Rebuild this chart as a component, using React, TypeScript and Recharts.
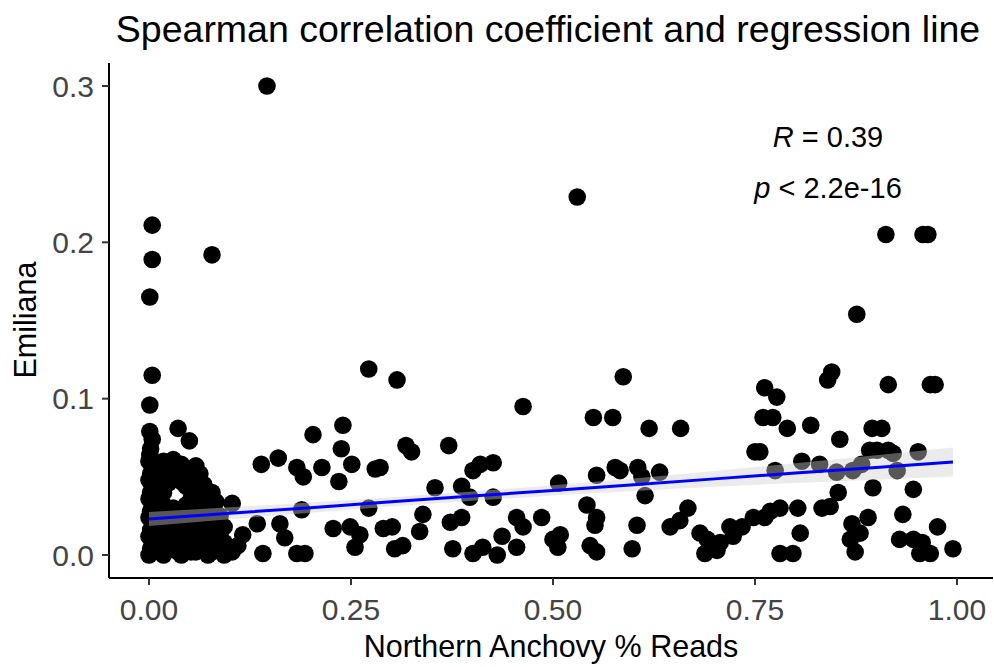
import React from 'react';
import { ComposedChart, Scatter, Area, Line, XAxis, YAxis } from 'recharts';

const W = 994;
const H = 667;
const FONT = '"Liberation Sans", Arial, Helvetica, sans-serif';

const xTicks = [0, 0.25, 0.5, 0.75, 1];
const yTicks = [0, 0.1, 0.2, 0.3];

const chartTitle = 'Spearman correlation coefficient and regression line';
const xTitle = 'Northern Anchovy % Reads';
const yTitle = 'Emiliana';
const corrR = '0.39';
const corrP = '2.2e-16';

// [Northern Anchovy % Reads, Emiliana]
const outlierPoints: [number, number][] = [
  [0.146, 0.300], [0.530, 0.229], [0.004, 0.211], [0.004, 0.189], [0.078, 0.192],
  [0.001, 0.165], [0.004, 0.115], [0.001, 0.096], [0.912, 0.205], [0.958, 0.205],
  [0.964, 0.205], [0.876, 0.154], [0.845, 0.117], [0.840, 0.112], [0.762, 0.107],
  [0.777, 0.101], [0.915, 0.109], [0.967, 0.109], [0.973, 0.109], [0.272, 0.119],
  [0.307, 0.112], [0.587, 0.114],
];

const zeroColumnPoints: [number, number][] = [
  [0.000, 0.000], [0.002, 0.004], [0.004, 0.008], [0.000, 0.012], [0.002, 0.016],
  [0.004, 0.020], [0.000, 0.024], [0.002, 0.028], [0.004, 0.032], [0.000, 0.036],
  [0.002, 0.040], [0.004, 0.044], [0.000, 0.048], [0.002, 0.052], [0.004, 0.056],
  [0.000, 0.060], [0.001, 0.064], [0.002, 0.068], [0.004, 0.074], [0.001, 0.079],
];

const clusterPoints: [number, number][] = [
  [0.006, 0.006], [0.006, 0.014], [0.006, 0.022], [0.006, 0.030], [0.006, 0.038],
  [0.006, 0.046], [0.006, 0.054],
  [0.012, 0.002], [0.012, 0.010], [0.012, 0.018], [0.012, 0.026], [0.012, 0.034],
  [0.012, 0.042], [0.012, 0.050], [0.012, 0.057],
  [0.018, 0.000], [0.018, 0.008], [0.018, 0.016], [0.018, 0.024], [0.018, 0.032],
  [0.018, 0.040], [0.018, 0.052], [0.018, 0.060],
  [0.024, 0.004], [0.024, 0.012], [0.024, 0.020], [0.024, 0.028], [0.024, 0.046], [0.024, 0.056],
  [0.030, 0.006], [0.030, 0.014], [0.030, 0.022], [0.030, 0.030], [0.030, 0.054], [0.030, 0.061],
  [0.036, 0.002], [0.036, 0.010], [0.036, 0.018], [0.036, 0.026], [0.036, 0.050], [0.036, 0.081],
  [0.040, 0.000], [0.040, 0.008], [0.040, 0.016], [0.040, 0.024], [0.040, 0.047], [0.040, 0.058],
  [0.046, 0.006], [0.046, 0.014], [0.046, 0.022], [0.046, 0.032], [0.046, 0.044], [0.046, 0.054],
  [0.050, 0.073],
  [0.052, 0.002], [0.052, 0.010], [0.052, 0.018], [0.052, 0.026], [0.052, 0.036], [0.052, 0.048],
  [0.058, 0.002], [0.058, 0.010], [0.058, 0.020], [0.058, 0.030], [0.058, 0.040], [0.058, 0.050], [0.058, 0.057],
  [0.063, 0.008], [0.063, 0.016], [0.063, 0.026], [0.063, 0.036], [0.063, 0.044], [0.063, 0.052],
  [0.068, 0.005], [0.068, 0.014], [0.068, 0.024], [0.068, 0.034], [0.068, 0.045],
  [0.073, 0.000], [0.073, 0.008], [0.073, 0.018], [0.073, 0.028], [0.073, 0.038],
  [0.078, 0.002], [0.078, 0.010], [0.078, 0.020], [0.078, 0.030], [0.078, 0.040],
  [0.083, 0.006], [0.083, 0.016], [0.083, 0.024], [0.083, 0.034],
  [0.088, 0.004], [0.088, 0.014], [0.088, 0.025],
  [0.093, 0.000], [0.093, 0.008], [0.093, 0.018],
  [0.103, 0.002], [0.103, 0.033], [0.110, 0.006], [0.116, 0.013],
];

const midPoints: [number, number][] = [
  [0.139, 0.058], [0.160, 0.062], [0.183, 0.056], [0.134, 0.020], [0.141, 0.001],
  [0.162, 0.020], [0.168, 0.011], [0.183, 0.001], [0.203, 0.077], [0.240, 0.083],
  [0.238, 0.068], [0.251, 0.058], [0.235, 0.047], [0.214, 0.056], [0.191, 0.050],
  [0.280, 0.055], [0.286, 0.056], [0.318, 0.070], [0.325, 0.066], [0.371, 0.070],
  [0.354, 0.043], [0.387, 0.044], [0.410, 0.058], [0.426, 0.059], [0.401, 0.054],
  [0.397, 0.037], [0.426, 0.037], [0.189, 0.029], [0.272, 0.030], [0.193, 0.001],
  [0.228, 0.017], [0.249, 0.018], [0.261, 0.013], [0.255, 0.005], [0.290, 0.017],
  [0.301, 0.018], [0.304, 0.004], [0.314, 0.006], [0.339, 0.026], [0.335, 0.015],
  [0.373, 0.021], [0.387, 0.024], [0.376, 0.004], [0.401, 0.001], [0.413, 0.005],
  [0.431, 0.000], [0.437, 0.012], [0.455, 0.024], [0.463, 0.018], [0.455, 0.005],
  [0.463, 0.095],
];

const upperMidPoints: [number, number][] = [
  [0.550, 0.088], [0.574, 0.088], [0.619, 0.081], [0.658, 0.081], [0.760, 0.088],
  [0.750, 0.066], [0.554, 0.051], [0.577, 0.056], [0.583, 0.054], [0.605, 0.056],
  [0.610, 0.050], [0.632, 0.053], [0.507, 0.046], [0.614, 0.038], [0.486, 0.024],
  [0.542, 0.032], [0.554, 0.024], [0.552, 0.019], [0.509, 0.013], [0.500, 0.010],
  [0.506, 0.005], [0.546, 0.006], [0.554, 0.002], [0.598, 0.004], [0.604, 0.019],
  [0.645, 0.018], [0.657, 0.022], [0.667, 0.030], [0.682, 0.014], [0.691, 0.010],
  [0.688, 0.001], [0.707, 0.008], [0.723, 0.012], [0.719, 0.018], [0.734, 0.018],
  [0.748, 0.024], [0.762, 0.024], [0.703, 0.003],
];

const rightPoints: [number, number][] = [
  [0.772, 0.088], [0.790, 0.081], [0.819, 0.083], [0.895, 0.081], [0.907, 0.081],
  [0.855, 0.074], [0.756, 0.066], [0.775, 0.054], [0.808, 0.060], [0.830, 0.058],
  [0.851, 0.053], [0.871, 0.054], [0.882, 0.058], [0.892, 0.067], [0.901, 0.067],
  [0.915, 0.067], [0.921, 0.065], [0.926, 0.054], [0.952, 0.066], [0.853, 0.040],
  [0.896, 0.043], [0.946, 0.042], [0.933, 0.026], [0.976, 0.018], [0.995, 0.004],
  [0.769, 0.028], [0.781, 0.030], [0.803, 0.030], [0.833, 0.030], [0.843, 0.031],
  [0.806, 0.014], [0.781, 0.001], [0.797, 0.001], [0.870, 0.020], [0.890, 0.024],
  [0.880, 0.014], [0.868, 0.010], [0.874, 0.002], [0.929, 0.010], [0.946, 0.010],
  [0.957, 0.008], [0.967, 0.001], [0.954, 0.001],
];

// regression line and its confidence band
const fitX = [0, 0.1, 0.2, 0.3, 0.4, 0.5, 0.6, 0.7, 0.8, 0.9, 0.995];
const fitY = [0.0230, 0.0267, 0.0303, 0.0340, 0.0377, 0.0413, 0.0450, 0.0487, 0.0524, 0.0560, 0.0595];
const bandLow = [0.0185, 0.0229, 0.0270, 0.0310, 0.0347, 0.0380, 0.0410, 0.0437, 0.0461, 0.0482, 0.0502];
const bandHigh = [0.0275, 0.0305, 0.0336, 0.0370, 0.0407, 0.0446, 0.0490, 0.0537, 0.0587, 0.0638, 0.0688];

const allPoints = [
  ...zeroColumnPoints,
  ...clusterPoints,
  ...midPoints,
  ...upperMidPoints,
  ...rightPoints,
  ...outlierPoints,
];
const scatterData = allPoints.map(([x, y]) => ({ x, y }));
const bandData = fitX.map((x, i) => ({ x, band: [bandLow[i], bandHigh[i]] }));
const fitData = fitX.map((x, i) => ({ x, fit: fitY[i] }));

const Dot = (props: any) => {
  const { cx, cy } = props;
  if (cx == null || cy == null) return null;
  return <circle cx={cx} cy={cy} r={8.8} fill="#000" />;
};

const TICK_COLOR = '#444';

export default function App() {
  return (
    <div
      style={{
        position: 'absolute',
        left: 0,
        top: 0,
        width: W,
        height: H,
        background: '#fff',
        fontFamily: FONT,
      }}
    >
      <ComposedChart width={W} height={H} margin={{ top: 63, right: 1, bottom: 0, left: 0 }}>
        <XAxis
          dataKey="x"
          type="number"
          domain={[-0.0495, 1.0446]}
          allowDataOverflow
          ticks={xTicks}
          interval={0}
          tickFormatter={(v: number) => v.toFixed(2)}
          height={89}
          tickSize={7}
          tickMargin={14}
          tick={{ fill: TICK_COLOR, fontSize: 30, fontFamily: FONT }}
          axisLine={{ stroke: '#000', strokeWidth: 2 }}
          tickLine={{ stroke: '#333', strokeWidth: 2 }}
        />
        <YAxis
          type="number"
          domain={[-0.0147, 0.3147]}
          allowDataOverflow
          ticks={yTicks}
          interval={0}
          tickFormatter={(v: number) => v.toFixed(1)}
          width={109}
          tickSize={7}
          tickMargin={8}
          tick={{ fill: TICK_COLOR, fontSize: 30, fontFamily: FONT }}
          axisLine={{ stroke: '#000', strokeWidth: 2 }}
          tickLine={{ stroke: '#333', strokeWidth: 2 }}
        />
        <Scatter
          data={scatterData}
          dataKey="y"
          fill="#000"
          shape={Dot}
          isAnimationActive={false}
          zIndex={600}
        />
        <Area
          data={bandData}
          dataKey="band"
          type="linear"
          stroke="none"
          fill="#cfcfcf"
          fillOpacity={0.42}
          dot={false}
          activeDot={false}
          isAnimationActive={false}
          zIndex={700}
        />
        <Line
          data={fitData}
          dataKey="fit"
          type="linear"
          stroke="#0000ff"
          strokeWidth={3}
          dot={false}
          activeDot={false}
          isAnimationActive={false}
          zIndex={800}
        />
      </ComposedChart>
      <svg
        width={W}
        height={H}
        style={{ position: 'absolute', left: 0, top: 0, pointerEvents: 'none' }}
        fontFamily={FONT}
      >
        <text x={548} y={42} textAnchor="middle" fontSize={37.5} fill="#000">
          {chartTitle}
        </text>
        <text x={551} y={657} textAnchor="middle" fontSize={30.5} fill="#000">
          {xTitle}
        </text>
        <text
          x={0}
          y={0}
          transform="translate(36,320) rotate(-90)"
          textAnchor="middle"
          fontSize={30.5}
          fill="#000"
        >
          {yTitle}
        </text>
        <text x={828} y={147} textAnchor="middle" fontSize={29} fill="#000">
          <tspan fontStyle="italic">R</tspan>
          {' = ' + corrR}
        </text>
        <text x={828} y={198} textAnchor="middle" fontSize={29} fill="#000">
          <tspan fontStyle="italic">p</tspan>
          {' < ' + corrP}
        </text>
      </svg>
    </div>
  );
}
